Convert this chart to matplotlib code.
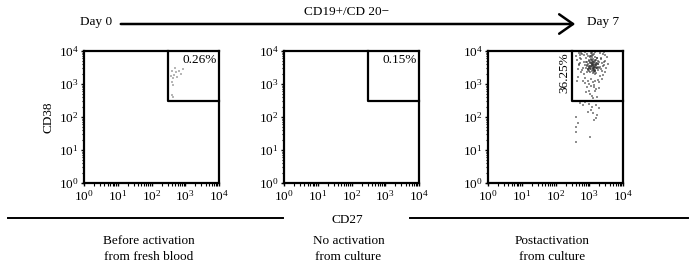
import matplotlib
matplotlib.use("Agg")
import matplotlib.pyplot as plt
import matplotlib.ticker as mticker
import numpy as np

plt.rcParams['font.family'] = ['Liberation Serif', 'DejaVu Serif']
plt.rcParams['mathtext.fontset'] = 'custom'
plt.rcParams['mathtext.rm'] = 'Liberation Serif'

# data (log10 values of CD27 / CD38)
panel_titles = ["Before activation\nfrom fresh blood",
                "No activation\nfrom culture",
                "Postactivation\nfrom culture"]
gate_pct = ["0.26%", "0.15%", "36.25%"]
gate_low = 2.5

p1_cd27 = [2.61, 2.68, 2.74, 2.82, 2.87, 2.92, 2.65, 2.61, 2.63, 2.61, 2.65, 2.77, 2.71, 2.59]
p1_cd38 = [3.39, 3.27, 3.37, 3.39, 3.29, 3.45, 3.17, 3.07, 2.97, 2.67, 2.62, 3.22, 3.47, 3.25]

p2_cd27 = []
p2_cd38 = []

p3_cd27 = [2.90, 3.05, 3.12, 3.20, 2.95, 3.08, 3.15, 3.25, 3.00, 3.10, 3.18, 2.88, 3.02, 3.22, 3.30,
           2.93, 3.06, 3.14, 3.27, 2.98, 3.11, 3.19, 3.03, 3.16, 2.91, 3.09, 3.24, 3.13, 2.97, 3.07,
           3.21, 3.01, 3.17, 3.12, 3.04, 2.94, 3.26, 3.10, 3.15, 3.08,
           3.14, 2.99, 3.23, 3.06, 3.18, 2.92, 3.11, 3.28, 3.03, 3.16, 2.96, 3.09, 3.20, 3.13, 3.01,
           3.25, 2.89, 3.07, 3.19, 3.12, 3.05, 3.22, 2.94, 3.15, 3.10, 3.27, 3.00, 3.17, 3.08, 2.97,
           3.13, 3.21, 3.04, 3.11, 3.18, 2.93, 3.09, 3.24, 3.02, 3.14,
           2.62, 2.70, 2.78, 2.85, 3.35, 3.42, 3.48, 3.55, 2.66, 2.74, 2.82, 3.38, 3.45, 3.52, 2.68,
           2.76, 3.32, 3.40, 3.50, 2.72, 2.80, 2.64, 3.37, 3.44, 2.86, 3.33, 2.75, 3.47, 2.69, 3.41,
           2.83, 3.36, 2.79, 3.29, 2.71, 3.43, 2.88, 3.31, 2.65, 3.39, 2.77, 3.46, 2.84, 3.34, 2.73,
           2.95, 3.05, 3.12, 3.20, 2.90, 3.00, 3.08, 3.15, 3.25, 2.98, 3.10, 3.18, 3.03, 3.13, 2.93,
           3.22, 3.06, 3.30, 2.88, 3.16,
           2.62, 2.61, 2.61, 2.60, 2.95, 3.02, 3.14, 3.09, 2.81, 3.24, 3.19, 2.74, 2.88, 3.05, 3.28,
           2.70, 3.12, 2.98, 3.20, 2.66,
           2.96, 3.04, 3.11, 3.19, 3.07, 3.00, 3.14, 3.09, 3.17, 3.02, 3.12, 3.06, 2.99, 3.21, 3.10,
           3.16, 3.08, 3.13, 3.03, 3.18]
p3_cd38 = [3.80, 3.65, 3.55, 3.72, 3.45, 3.88, 3.40, 3.60, 3.70, 3.50, 3.83, 3.58, 3.35, 3.48, 3.66,
           3.92, 3.76, 3.63, 3.42, 3.52, 3.44, 3.57, 3.86, 3.30, 3.68, 3.38, 3.78, 3.90, 3.62, 3.54,
           3.32, 3.47, 3.74, 3.59, 3.95, 3.36, 3.53, 3.68, 3.46, 3.61,
           3.51, 3.73, 3.64, 3.84, 3.43, 3.67, 3.77, 3.49, 3.56, 3.69, 3.41, 3.93, 3.58, 3.37, 3.81,
           3.71, 3.47, 3.62, 3.53, 3.87, 3.45, 3.79, 3.55, 3.66, 3.33, 3.60, 3.49, 3.97, 3.74, 3.85,
           3.42, 3.63, 3.52, 3.70, 3.39, 3.57, 3.82, 3.48, 3.64, 3.58,
           3.85, 3.60, 3.92, 3.30, 3.75, 3.55, 3.88, 3.62, 3.45, 3.78, 3.50, 3.40, 3.68, 3.82, 3.20,
           3.95, 3.25, 3.90, 3.48, 3.65, 3.08, 3.72, 3.15, 3.58, 3.98, 3.52, 3.35, 3.70, 3.95, 3.28,
           3.87, 3.80, 3.42, 3.05, 3.58, 3.96, 3.18, 3.93, 3.10, 3.63, 3.75, 3.35, 3.66, 3.45, 3.88,
           3.10, 2.95, 3.05, 2.85, 2.75, 3.00, 2.65, 2.90, 3.12, 2.80, 2.58, 3.08, 2.70, 2.98, 2.92,
           2.62, 3.15, 2.88, 3.02, 2.78,
           2.01, 1.69, 1.55, 1.25, 2.16, 1.40, 1.91, 2.31, 2.36, 2.06, 2.36, 2.41, 2.45, 2.20, 2.28,
           2.47, 2.12, 2.38, 1.98, 1.82,
           3.44, 3.56, 3.50, 3.62, 3.68, 3.40, 3.47, 3.58, 3.53, 3.66, 3.43, 3.72, 3.55, 3.49, 3.60,
           3.38, 3.64, 3.52, 3.46, 3.57]

W, H = 694, 267
fig = plt.figure(figsize=(W / 100, H / 100), dpi=100)
fs = 9.5

def fx(px):
    return px / W

def fy(py):
    return 1 - py / H

panel_left = [84, 284, 488]
panel_w = 135
ax_top, ax_bot = 51, 183
xs = [p1_cd27, p2_cd27, p3_cd27]
ys = [p1_cd38, p2_cd38, p3_cd38]

for i in range(3):
    ax = fig.add_axes([fx(panel_left[i]), fy(ax_bot), panel_w / W, (ax_bot - ax_top) / H])
    ax.set_xscale('log')
    ax.set_yscale('log')
    ax.set_xlim(1, 1e4)
    ax.set_ylim(1, 1e4)
    if len(xs[i]):
        alpha = 0.35 if i == 0 else 0.55
        ax.scatter(10 ** np.array(xs[i]), 10 ** np.array(ys[i]), s=3.5, marker='s',
                   color='0.2', alpha=alpha, linewidths=0)
    g = 10 ** gate_low
    ax.plot([g, g, 1e4], [1e4, g, g], color='black', lw=1.6, clip_on=False)
    for sp in ax.spines.values():
        sp.set_linewidth(1.6)
    ax.xaxis.set_major_locator(mticker.LogLocator(base=10, numticks=10))
    ax.yaxis.set_major_locator(mticker.LogLocator(base=10, numticks=10))
    ax.xaxis.set_minor_locator(mticker.LogLocator(base=10, subs=np.arange(2, 10), numticks=10))
    ax.yaxis.set_minor_locator(mticker.LogLocator(base=10, subs=np.arange(2, 10), numticks=10))
    ax.tick_params(which='major', direction='out', length=2.5, width=1, labelsize=fs, pad=1.5)
    ax.tick_params(which='minor', direction='out', length=1.8, width=0.8)
    if i < 2:
        ax.text(0.985, 0.975, gate_pct[i], transform=ax.transAxes, ha='right', va='top', fontsize=fs)
    else:
        ax.text(10 ** 2.45, 10 ** 3.95, gate_pct[i], ha='right', va='top', rotation=90, fontsize=fs)
    if i == 0:
        ax.set_ylabel("CD38", fontsize=fs, labelpad=3)
    fig.text(fx(panel_left[i] + panel_w / 2 - 3), fy(249), panel_titles[i], ha='center', va='center',
             fontsize=fs, linespacing=1.45)

# top arrow
fig.add_artist(matplotlib.patches.FancyArrowPatch((fx(118), fy(24)), (fx(578), fy(24)),
                                                  transform=fig.transFigure, arrowstyle='->,head_length=5,head_width=3.5',
                                                  mutation_scale=2, lw=1.8, color='black'))
fig.text(fx(96), fy(22), "Day 0", ha='center', va='center', fontsize=fs)
fig.text(fx(603), fy(22), "Day 7", ha='center', va='center', fontsize=fs)
fig.text(fx(347), fy(12), "CD19+/CD 20\u2212", ha='center', va='center', fontsize=fs)

# bottom separator lines with CD27 label
fig.add_artist(plt.Line2D([fx(8), fx(283)], [fy(218), fy(218)], color='black', lw=1.4))
fig.add_artist(plt.Line2D([fx(410), fx(688)], [fy(218), fy(218)], color='black', lw=1.4))
fig.text(fx(347), fy(220), "CD27", ha='center', va='center', fontsize=fs)

fig.savefig("out.png", dpi=100)
